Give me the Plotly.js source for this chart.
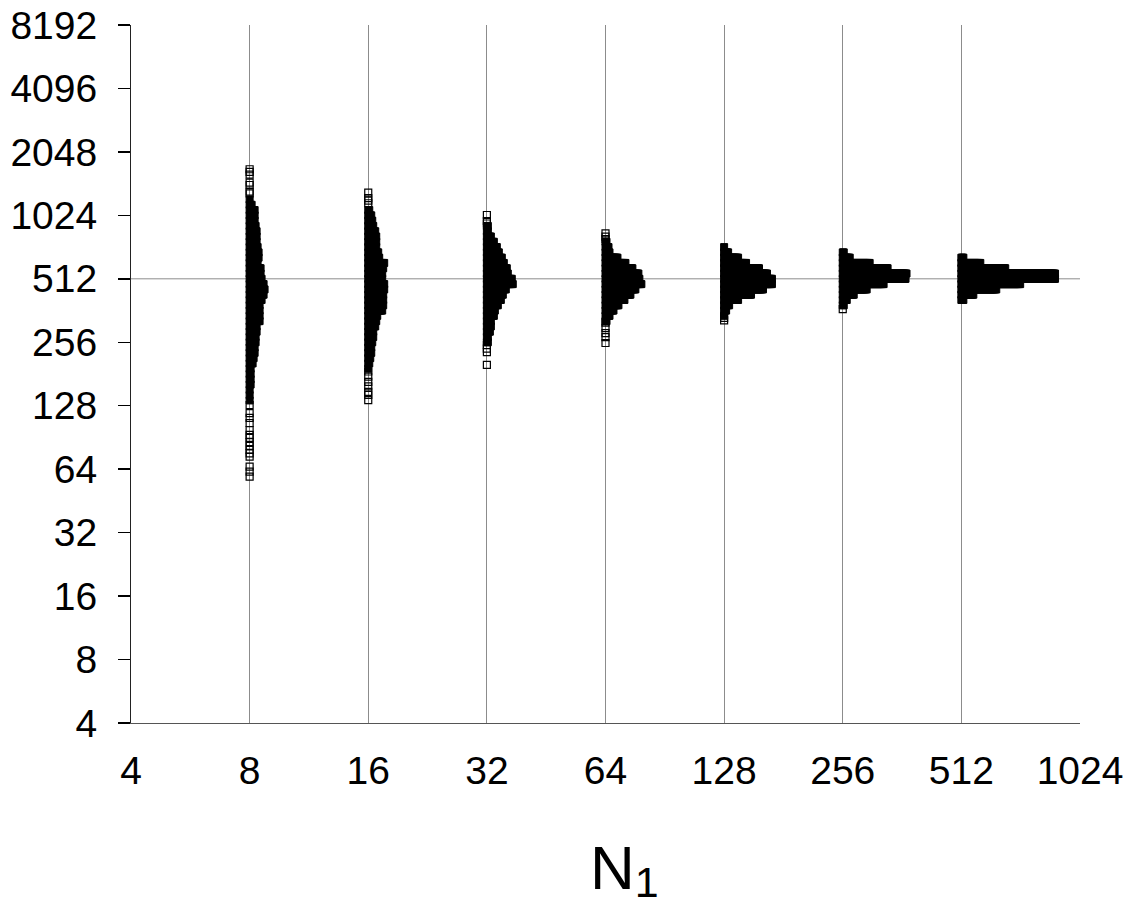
<!DOCTYPE html>
<html>
<head>
<meta charset="utf-8">
<script src="https://cdn.plot.ly/plotly-3.0.1.min.js"></script>
<style>html,body{margin:0;padding:0;background:#fff;}#chart{width:1137px;height:909px;}</style>
</head>
<body>
<div id="chart"></div>
<script>
// ---- data ----
const xTicks = [4, 8, 16, 32, 64, 128, 256, 512, 1024];
const xTickText = ["4", "8", "16", "32", "64", "128", "256", "512", "1024"];
const yTicks = [4, 8, 16, 32, 64, 128, 256, 512, 1024, 2048, 4096, 8192];
const yTickText = ["4", "8", "16", "32", "64", "128", "256", "512", "1024", "2048", "4096", "8192"];

const refLevel = 512;

// histogram bin centres (shared y bins)
const binValues = [128, 135.6, 143.7, 152.2, 161.3, 170.9, 181.0, 191.8, 203.2, 215.3,
  228.1, 241.7, 256, 271.2, 287.4, 304.4, 322.5, 341.7, 362.0, 383.6,
  406.4, 430.5, 456.1, 483.3, 512, 542.4, 574.7, 608.9, 645.1, 683.4,
  724.1, 767.1, 812.7, 861.0, 912.2, 966.5, 1024, 1084.9, 1149.4, 1217.7, 1290.2];

const n1Values = [8, 16, 32, 64, 128, 256, 512];

// number of stacked points in each bin, per N1
const counts8 = [0,1,1,1,2,2,2,2,4,5,6,6,7,7,8,8,11,11,11,11,13,15,16,15,13,12,12,9,10,10,9,8,8,8,7,6,6,6,3,1,0];
const counts16 = [0,0,0,0,0,0,0,1,2,3,4,4,5,6,6,8,9,10,15,16,16,16,17,17,15,15,16,17,12,11,9,9,9,8,6,5,4,2,0,0,0];
const counts32 = [0,0,0,0,0,0,0,0,0,0,0,0,2,2,4,5,5,8,9,12,15,17,20,27,26,22,21,18,16,13,11,8,5,2,2,0,0,0,0,0,0];
const counts64 = [0,0,0,0,0,0,0,0,0,0,0,0,0,0,0,0,2,5,9,14,20,26,31,37,35,34,28,21,13,5,4,2,0,0,0,0,0,0,0,0,0];
const counts128 = [0,0,0,0,0,0,0,0,0,0,0,0,0,0,0,0,0,1,3,6,15,28,40,49,49,44,36,23,15,5,1,0,0,0,0,0,0,0,0,0,0];
const counts256 = [0,0,0,0,0,0,0,0,0,0,0,0,0,0,0,0,0,0,0,2,5,12,25,42,64,65,46,28,8,2,0,0,0,0,0,0,0,0,0,0,0];
const counts512 = [0,0,0,0,0,0,0,0,0,0,0,0,0,0,0,0,0,0,0,0,3,13,36,60,95,95,45,20,3,0,0,0,0,0,0,0,0,0,0,0,0];

// isolated extreme values, per N1
const outliers8 = [1695, 1645, 1597, 1463, 1427, 1327, 1303, 129, 118, 112, 106, 98, 93, 90, 86, 82.5, 79, 76, 73.4, 65.8, 62.3, 59];
const outliers16 = [1312, 1235, 1202, 1169, 186, 176, 166, 158, 149, 144, 136];
const outliers32 = [1028, 963, 937, 248.5, 239, 230, 200];
const outliers64 = [842, 811, 791, 317, 299, 283, 271, 254];
const outliers128 = [334, 325];
const outliers256 = [368];
const outliers512 = [];

// ---- drawing ----
const STACK_STEP = 0.0084; // log2 offset between stacked points
const countsAll = [counts8, counts16, counts32, counts64, counts128, counts256, counts512];
const outliersAll = [outliers8, outliers16, outliers32, outliers64, outliers128, outliers256, outliers512];

const traces = [{
  type: 'scatter', mode: 'lines',
  x: [xTicks[0], xTicks[xTicks.length - 1]], y: [refLevel, refLevel],
  line: {color: '#8c8c8c', width: 1}, hoverinfo: 'skip', showlegend: false
}];

n1Values.forEach((n1, ci) => {
  const xs = [], ys = [];
  countsAll[ci].forEach((c, bi) => {
    for (let j = 0; j < c; j++) {
      xs.push(n1 * Math.pow(2, j * STACK_STEP));
      ys.push(binValues[bi]);
    }
  });
  traces.push({
    type: 'scatter', mode: 'markers', x: xs, y: ys, showlegend: false,
    marker: {symbol: 'square', size: 7, color: '#000', line: {color: '#000', width: 1}},
    hoverinfo: 'skip'
  });
  const ov = outliersAll[ci];
  if (ov.length) {
    traces.push({
      type: 'scatter', mode: 'markers', x: ov.map(() => n1), y: ov, showlegend: false,
      marker: {symbol: 'square-open', size: 7, color: '#000', line: {width: 1.2}},
      hoverinfo: 'skip'
    });
  }
});

const font = 'Liberation Sans, Arial, Helvetica, sans-serif';
const layout = {
  width: 1137, height: 909,
  margin: {l: 131, r: 57, t: 25, b: 186, pad: 0},
  paper_bgcolor: '#fff', plot_bgcolor: '#fff',
  font: {family: font, color: '#000'},
  showlegend: false,
  xaxis: {
    type: 'log', range: [Math.log10(4), Math.log10(1024)],
    tickmode: 'array', tickvals: xTicks, ticktext: xTickText,
    showgrid: true, gridcolor: '#8c8c8c', gridwidth: 1,
    showline: true, linecolor: '#555', linewidth: 1,
    ticks: '', zeroline: false,
    tickfont: {family: font, size: 39, color: '#000'},
    ticklabelstandoff: 13
  },
  yaxis: {
    type: 'log', range: [Math.log10(4), Math.log10(8192)],
    tickmode: 'array', tickvals: yTicks, ticktext: yTickText,
    showgrid: false, zeroline: false,
    showline: true, linecolor: '#222', linewidth: 1,
    ticks: 'outside', ticklen: 12, tickwidth: 1.5, tickcolor: '#000',
    tickfont: {family: font, size: 39, color: '#000'},
    ticklabelstandoff: 13
  },
  annotations: [{
    text: 'N<span style="font-size:43px;baseline-shift:-8px">1</span>', xref: 'paper', yref: 'paper',
    x: 0.5205, y: 0, xanchor: 'center', yanchor: 'top', yshift: -108,
    showarrow: false, font: {family: font, size: 62, color: '#000'}
  }]
};

Plotly.newPlot('chart', traces, layout, {displayModeBar: false, staticPlot: true});
</script>
</body>
</html>
